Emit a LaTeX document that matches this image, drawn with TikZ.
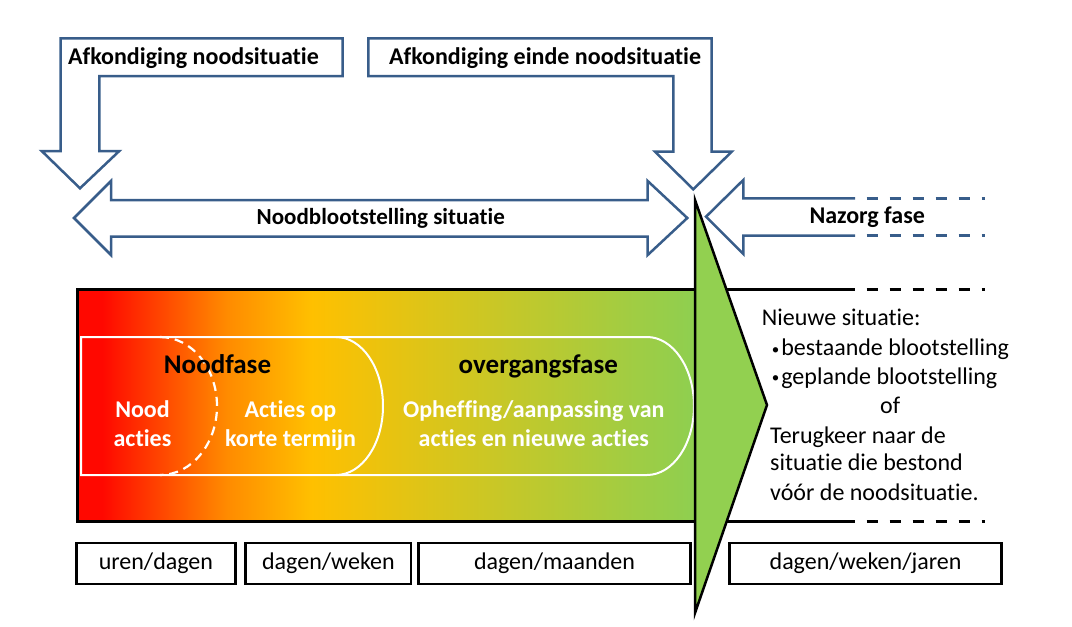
\documentclass[tikz,border=0pt]{standalone}
\usepackage{fontspec}
\setmainfont{Carlito}[Ligatures={NoCommon,NoContextual}, Contextuals=NoAlternate]

\definecolor{arrowblue}{HTML}{385D8A}
\definecolor{chevgreen}{HTML}{92D050}
\definecolor{gradred}{HTML}{FF0800}
\definecolor{gradorange}{HTML}{FF8A00}
\definecolor{gradamber}{HTML}{FFC000}
\definecolor{gradgreen}{HTML}{8ECF50}

% path box is mapped onto 25bp..75bp
\pgfdeclarehorizontalshading{phasegrad}{100bp}{color(0bp)=(gradred); color(27bp)=(gradred);
  color(37bp)=(gradorange); color(44bp)=(gradamber); color(75bp)=(gradgreen); color(100bp)=(gradgreen)}

\newcommand{\smallbul}{{\fontsize{15}{15}\selectfont\raisebox{1.5pt}{\textbullet}}\hspace{2pt}}

\begin{document}
\begin{tikzpicture}[x=1pt, y=-1pt,
  blockarrow/.style={draw=arrowblue, line width=2.5pt, fill=white, line join=miter},
  toplabel/.style={font=\fontsize{24}{29}\selectfont\bfseries, inner sep=0pt},
  phasetitle/.style={font=\fontsize{27}{32}\selectfont\bfseries, inner sep=0pt},
  phasetext/.style={font=\fontsize{24}{29}\selectfont\bfseries, text=white, inner sep=0pt},
  plaintext/.style={font=\fontsize{24}{29}\selectfont, inner sep=0pt},
  spanbox/.style={draw, line width=2.8pt, fill=white, minimum height=41pt, inner sep=0pt,
    font=\fontsize{24}{29}\selectfont},
  openend/.style={dash pattern=on 11.5pt off 11.5pt, dash phase=11.5pt}]
\useasboundingbox (0,0) rectangle (1072,627);

% declaration arrows
\draw[blockarrow] (60.7,38.3) -- (342.7,38.3) -- (342.7,76) -- (99.3,76) -- (99.3,151)
  -- (119.3,151) -- (80,188.3) -- (41.7,151) -- (60.7,151) -- cycle;
\node[toplabel, anchor=base west] (declstart) at (68,64) {Afkondiging noodsituatie};
\draw[blockarrow] (368.3,38.3) -- (711.7,38.3) -- (711.7,151.7) -- (731.7,151.7) -- (693.3,189.3)
  -- (655,151.7) -- (673.3,151.7) -- (673.3,76) -- (368.3,76) -- cycle;
\node[toplabel, anchor=base west] (declend) at (389,64) {Afkondiging einde noodsituatie};

% exposure situation
\draw[blockarrow] (74,218) -- (111,181) -- (111,200) -- (647.7,200) -- (647.7,181) -- (687.3,218)
  -- (647.7,255) -- (647.7,236.7) -- (111,236.7) -- (111,255) -- cycle;
\node[toplabel, font=\fontsize{23}{28}\selectfont\bfseries, anchor=base] (exposure) at (380.7,224) {Noodblootstelling situatie};

% aftercare
\draw[blockarrow, fill=none] (855,198.3) -- (743.3,198.3) -- (743.3,180) -- (706,216.7)
  -- (743.3,254) -- (743.3,235.7) -- (855,235.7);
\draw[arrowblue, line width=2.5pt, openend] (855,198.3) -- (985,198.3);
\draw[arrowblue, line width=2.5pt, openend] (855,235.7) -- (985,235.7);
\node[toplabel, anchor=base west] (aftercare) at (809.3,223.5) {Nazorg fase};

% phase band
\shade[shading=phasegrad] (77.3,289.3) rectangle (695,521.7);
\draw[line width=3pt] (77.3,289.3) rectangle (695,521.7);
\draw[line width=3pt] (695,289.3) -- (855,289.3);
\draw[line width=3pt] (695,521.7) -- (855,521.7);
\draw[line width=3pt, openend] (855,289.3) -- (985,289.3);
\draw[line width=3pt, openend] (855,521.7) -- (985,521.7);

\draw[white, line width=2pt] (81,337) -- (647,337) arc[start angle=-90, end angle=90, x radius=47, y radius=69]
  -- (81,475) -- cycle;
\draw[white, line width=2pt] (336,337) arc[start angle=-90, end angle=90, x radius=47, y radius=69];
\draw[white, line width=2.2pt, dash pattern=on 9pt off 6pt] (160,337) arc[start angle=-90, end angle=90, x radius=57, y radius=69];

\node[phasetitle, anchor=base] (emphase) at (217.5,373) {Noodfase};
\node[phasetitle, anchor=base] (transphase) at (538.3,373) {overgangsfase};
\node[phasetext, anchor=base] (emact) at (142.5,417) {Nood};
\node[phasetext, anchor=base] (emacttwo) at (142.5,446) {acties};
\node[phasetext, anchor=base] (shortact) at (290.5,417) {Acties op};
\node[phasetext, anchor=base] (shortacttwo) at (290.5,446) {korte termijn};
\node[phasetext, anchor=base] (liftact) at (533.8,417) {Opheffing/aanpassing van};
\node[phasetext, anchor=base] (liftacttwo) at (533.8,446) {acties en nieuwe acties};

% transition chevron
\draw[line width=2.5pt, fill=chevgreen, line join=miter] (695,200) -- (767,405) -- (695,613) -- cycle;

% new situation
\node[plaintext, anchor=base west] (newsit) at (761.7,325.5) {Nieuwe situatie:};
\node[plaintext, anchor=base west] (existing) at (771.7,355.5) {\smallbul bestaande blootstelling};
\node[plaintext, anchor=base west] (planned) at (771.7,384) {\smallbul geplande blootstelling};
\node[plaintext, anchor=base west] (orword) at (880,413) {of};
\node[plaintext, anchor=base west] (backone) at (770,443.3) {Terugkeer naar de};
\node[plaintext, anchor=base west] (backtwo) at (770,470.7) {situatie die bestond};
\node[plaintext, anchor=base west] (backthree) at (770,500.5) {vóór de noodsituatie.};

% durations
\node[spanbox, minimum width=159.2pt] (hours) at (155.9,563.5) {uren/dagen};
\node[spanbox, minimum width=165.3pt] (weeks) at (328.4,563.5) {dagen/weken};
\node[spanbox, minimum width=272.2pt] (months) at (554.5,563.5) {dagen/maanden};
\node[spanbox, minimum width=272.4pt] (years) at (865.5,563.5) {dagen/weken/jaren};
\end{tikzpicture}
\end{document}
